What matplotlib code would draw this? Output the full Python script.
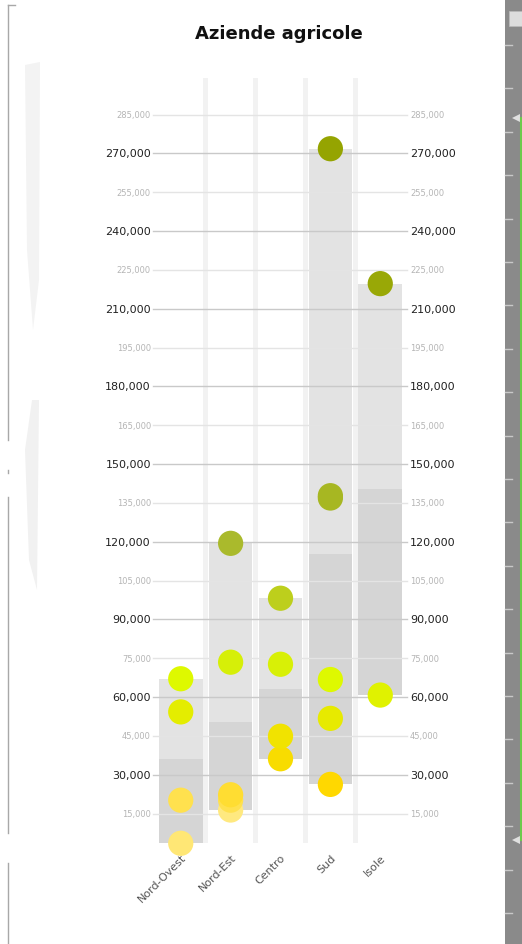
import numpy as np
import matplotlib
matplotlib.use("Agg")
import matplotlib.pyplot as plt
from matplotlib.colors import LinearSegmentedColormap, Normalize
from matplotlib.patches import Rectangle, Polygon
from matplotlib.lines import Line2D

# ---------------- data ----------------
regions = ["Nord-Ovest", "Nord-Est", "Centro", "Sud", "Isole"]
nord_ovest = [67100, 54300, 20200, 3550]
nord_est = [119400, 73500, 22300, 20200, 16400]
centro = [98200, 72700, 44900, 36200]
sud = [271800, 137800, 136900, 66800, 51800, 26300]
isole = [219700, 60800]
region_means = [36300, 50400, 63000, 115200, 140200]
major_ticks = [30000, 60000, 90000, 120000, 150000, 180000, 210000, 240000, 270000]
minor_ticks = [15000, 45000, 75000, 105000, 135000, 165000, 195000, 225000, 255000, 285000]
title = "Aziende agricole"

groups = [nord_ovest, nord_est, centro, sud, isole]

# ---------------- figure ----------------
W, H = 522, 944
fig = plt.figure(figsize=(W / 100, H / 100), dpi=100)
fig.patch.set_facecolor("white")


def fx(x):
    return x / W


def fy(y):
    return 1 - y / H


ax_left, ax_right, ax_top, ax_bot = 155.8, 405.2, 78.3, 843.3
ax = fig.add_axes([fx(ax_left), fy(ax_bot), (ax_right - ax_left) / W, (ax_bot - ax_top) / H])
ax.set_facecolor("none")
for s in ax.spines.values():
    s.set_visible(False)

all_vals = [v for g in groups for v in g]
ax.set_xlim(-0.5, len(regions) - 0.5)
ax.set_ylim(min(all_vals), 299000)

xpos = np.arange(len(regions))

# separator stripes
for b in xpos[:-1] + 0.5:
    ax.axvspan(b - 0.05, b + 0.05, color="#F2F2F2", zorder=0, lw=0)

# range bars (min-max) and (min-mean)
mins = [min(g) for g in groups]
maxs = [max(g) for g in groups]
ax.bar(xpos, np.array(maxs) - np.array(mins), bottom=mins, width=0.875,
       color="#E3E3E3", zorder=1, lw=0)
ax.bar(xpos, np.array(region_means) - np.array(mins), bottom=mins, width=0.875,
       color="#D5D5D5", zorder=1.5, lw=0)

# grid lines
x0 = (153 - ax_left) / (ax_right - ax_left)
x1 = (406.5 - ax_left) / (ax_right - ax_left)
for v in minor_ticks:
    ax.axhline(v, xmin=x0, xmax=x1, color="#E4E4E4", lw=1, zorder=2, clip_on=False)
for v in major_ticks:
    ax.axhline(v, xmin=x0, xmax=x1, color="#C9C9C9", lw=1, zorder=2, clip_on=False)

# dots
cmap = LinearSegmentedColormap.from_list(
    "dots",
    [
        (0.000, "#FFE672"),
        (17000 / 280000, "#FFE982"),
        (20000 / 280000, "#FFE04A"),
        (22300 / 280000, "#FFDC2E"),
        (26300 / 280000, "#FFD800"),
        (36000 / 280000, "#F8DC00"),
        (45000 / 280000, "#F1E300"),
        (53000 / 280000, "#E5EC00"),
        (61000 / 280000, "#E0F200"),
        (67000 / 280000, "#DEF900"),
        (74000 / 280000, "#D6EE08"),
        (98000 / 280000, "#BDCF1C"),
        (119000 / 280000, "#AABA2C"),
        (137000 / 280000, "#A7B722"),
        (220000 / 280000, "#99A806"),
        (1.000, "#94A300"),
    ],
)
norm = Normalize(0, 280000)
for i, g in enumerate(groups):
    order = sorted(g)  # draw smaller values first
    ax.scatter([i] * len(order), order, s=330, c=[cmap(norm(v)) for v in order],
               edgecolors="none", zorder=4, clip_on=False)

# y tick labels both sides
ax.set_yticks(major_ticks)
ax.set_yticklabels([f"{v:,}" for v in major_ticks])
ax.set_yticks(minor_ticks, minor=True)
ax.set_yticklabels([f"{v:,}" for v in minor_ticks], minor=True)
ax.tick_params(axis="y", which="major", length=0, labelsize=8, labelcolor="#222222",
               labelleft=True, labelright=True, pad=3.5)
ax.tick_params(axis="y", which="minor", length=0, labelsize=6, labelcolor="#B5B5B5",
               labelleft=True, labelright=True, pad=3.5)

# x tick labels
ax.set_xticks(xpos)
ax.set_xticklabels(regions, rotation=45, ha="right", rotation_mode="anchor")
ax.tick_params(axis="x", length=0, labelsize=8, labelcolor="#555555", pad=7)
for lbl in ax.get_xticklabels():
    lbl.set_x(lbl.get_position()[0])

# title
fig.text(fx(279), fy(34), title, ha="center", va="center", fontsize=13,
         fontweight="bold", color="#111111")

# ---------------- page chrome (screenshot surroundings) ----------------
# left border line
for (ya, yb) in [(5, 440), (470, 473), (497, 833), (863, 944)]:
    fig.add_artist(Line2D([fx(8), fx(8)], [fy(ya), fy(yb)], color="#A8A8A8", lw=1))
fig.add_artist(Line2D([fx(8), fx(15)], [fy(5), fy(5)], color="#A8A8A8", lw=1))
# faint blobs
fig.add_artist(Polygon([(fx(25), fy(65)), (fx(40), fy(62)), (fx(39), fy(280)),
                        (fx(33), fy(330)), (fx(27), fy(250))],
                       closed=True, facecolor="#F3F3F3", edgecolor="none"))
fig.add_artist(Polygon([(fx(32), fy(400)), (fx(39), fy(400)), (fx(37), fy(590)),
                        (fx(29), fy(560)), (fx(25), fy(450))],
                       closed=True, facecolor="#F1F1F1", edgecolor="none"))

# right scrollbar
fig.add_artist(Rectangle((fx(505), 0), 17 / W, 1, transform=fig.transFigure,
                         facecolor="#8A8A8A", edgecolor="none"))
for k in range(22):
    yy = 45 + 43.4 * k
    if yy > H:
        break
    fig.add_artist(Line2D([fx(505), fx(512)], [fy(yy), fy(yy)], color="#C8C8C8", lw=1))
fig.add_artist(Line2D([fx(520.5), fx(520.5)], [fy(118), fy(840)], color="#6CCB4C", lw=1.5))
for yy in (118, 840):
    fig.add_artist(Polygon([(fx(512), fy(yy)), (fx(520), fy(yy - 4)), (fx(520), fy(yy + 4))],
                           closed=True, facecolor="#E0E0E0", edgecolor="none"))
fig.add_artist(Rectangle((fx(509), fy(26)), 13 / W, 15 / H, transform=fig.transFigure,
                         facecolor="#DDDDDD", edgecolor="#BBBBBB", lw=0.5))

fig.savefig("out.png", dpi=100)
